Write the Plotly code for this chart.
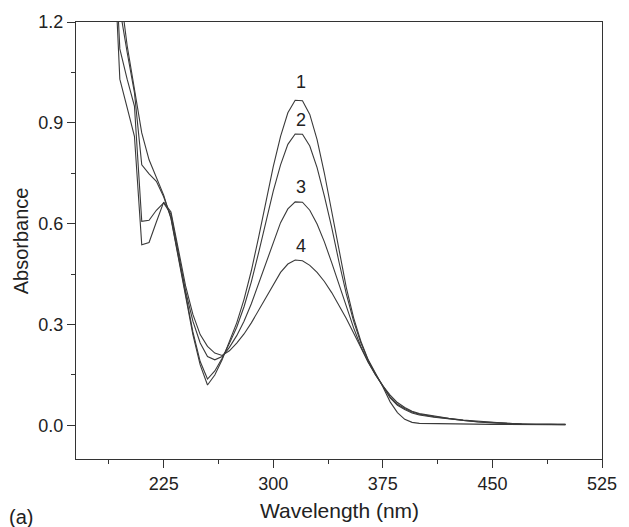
import plotly.graph_objects as go

# UV-Vis absorption spectra, four samples (1-4)
wavelength = [190, 195, 200, 205, 210, 215, 220, 225, 230, 235,
              240, 245, 250, 255, 260, 265, 270, 275, 280, 285,
              290, 295, 300, 305, 310, 315, 320, 325, 330, 335,
              340, 345, 350, 355, 360, 365, 370, 375, 380, 385,
              390, 395, 400, 410, 420, 430, 440, 450, 460, 470,
              480, 490, 500]

abs_1 = [1.90, 1.30, 1.13, 1.00, 0.870, 0.790, 0.735, 0.685, 0.615, 0.500,
         0.380, 0.270, 0.180, 0.120, 0.150, 0.195, 0.250, 0.305, 0.375, 0.460,
         0.560, 0.665, 0.770, 0.860, 0.930, 0.967, 0.966, 0.925, 0.850, 0.750,
         0.640, 0.520, 0.410, 0.320, 0.250, 0.195, 0.155, 0.115, 0.070, 0.038,
         0.018, 0.009, 0.006, 0.005, 0.004, 0.004, 0.003, 0.003, 0.003, 0.002,
         0.002, 0.002, 0.002]

abs_2 = [1.80, 1.24, 1.11, 0.990, 0.775, 0.748, 0.726, 0.680, 0.618, 0.505,
         0.385, 0.278, 0.190, 0.138, 0.162, 0.200, 0.244, 0.292, 0.353, 0.427,
         0.514, 0.605, 0.697, 0.775, 0.836, 0.867, 0.866, 0.831, 0.767, 0.682,
         0.589, 0.486, 0.391, 0.310, 0.245, 0.193, 0.152, 0.117, 0.082, 0.060,
         0.047, 0.037, 0.031, 0.024, 0.019, 0.014, 0.010, 0.007, 0.005, 0.004,
         0.003, 0.003, 0.002]

abs_3 = [1.56, 1.12, 1.03, 0.950, 0.607, 0.610, 0.640, 0.662, 0.628, 0.515,
         0.400, 0.310, 0.245, 0.205, 0.195, 0.205, 0.232, 0.267, 0.310, 0.362,
         0.422, 0.484, 0.548, 0.603, 0.644, 0.665, 0.664, 0.640, 0.599, 0.546,
         0.484, 0.417, 0.352, 0.290, 0.234, 0.188, 0.151, 0.118, 0.085, 0.063,
         0.050, 0.040, 0.033, 0.026, 0.020, 0.015, 0.011, 0.008, 0.005, 0.004,
         0.003, 0.003, 0.003]

abs_4 = [1.50, 1.03, 0.945, 0.860, 0.537, 0.544, 0.605, 0.664, 0.635, 0.525,
         0.415, 0.330, 0.270, 0.235, 0.215, 0.208, 0.222, 0.245, 0.272, 0.305,
         0.342, 0.380, 0.420, 0.455, 0.480, 0.492, 0.490, 0.476, 0.455, 0.428,
         0.395, 0.358, 0.318, 0.275, 0.230, 0.188, 0.150, 0.118, 0.090, 0.068,
         0.053, 0.042, 0.035, 0.027, 0.021, 0.016, 0.012, 0.008, 0.006, 0.004,
         0.004, 0.003, 0.003]

series = [abs_1, abs_2, abs_3, abs_4]
curve_labels = ["1", "2", "3", "4"]
label_wavelength = 319
label_abs = [1.021, 0.907, 0.708, 0.534]

x_ticks = [225, 300, 375, 450, 525]
x_minor = [187.5, 262.5, 337.5, 412.5, 487.5]
y_ticks = [0.0, 0.3, 0.6, 0.9, 1.2]
y_minor = [0.15, 0.45, 0.75, 1.05]

LINE = "#3a3a3a"
AXIS = "#333333"
TEXT = "#222222"
FONT = "Liberation Sans, Arial, Helvetica, sans-serif"

fig = go.Figure()
for values in series:
    fig.add_trace(go.Scatter(
        x=wavelength, y=values, mode="lines",
        line=dict(color=LINE, width=1.1),
        hoverinfo="skip", showlegend=False,
    ))

for text, yv in zip(curve_labels, label_abs):
    fig.add_annotation(x=label_wavelength, y=yv, xref="x", yref="y",
                       text=text, showarrow=False,
                       font=dict(size=18, color=TEXT, family=FONT))

axis_common = dict(
    showline=True, linecolor=AXIS, linewidth=1.2, mirror=True,
    ticks="outside", ticklen=8, tickwidth=1.2, tickcolor=AXIS,
    showgrid=False, zeroline=False,
    tickfont=dict(size=18, color=TEXT, family=FONT),
)

fig.update_xaxes(range=[165, 525], tickvals=x_ticks,
                 ticktext=[str(v) for v in x_ticks],
                 minor=dict(tickvals=x_minor, ticks="outside", ticklen=4,
                            tickwidth=1.2, tickcolor=AXIS),
                 **axis_common)
fig.update_yaxes(range=[-0.1, 1.2], tickvals=y_ticks,
                 ticktext=[f"{v:.1f}" for v in y_ticks],
                 minor=dict(tickvals=y_minor, ticks="outside", ticklen=4,
                            tickwidth=1.2, tickcolor=AXIS),
                 **axis_common)

# Axis titles and panel tag
fig.add_annotation(text="Wavelength (nm)", xref="paper", yref="paper",
                   x=0.5, y=-0.117, xanchor="center", yanchor="middle",
                   showarrow=False, font=dict(size=21, color=TEXT, family=FONT))
fig.add_annotation(text="Absorbance", xref="paper", yref="paper",
                   x=-0.105, y=0.5, xanchor="center", yanchor="middle",
                   textangle=-90, showarrow=False,
                   font=dict(size=20, color=TEXT, family=FONT))
fig.add_annotation(text="(a)", xref="paper", yref="paper",
                   x=-0.105, y=-0.132, xanchor="center", yanchor="middle",
                   showarrow=False, font=dict(size=20, color=TEXT, family=FONT))

fig.update_layout(
    width=629, height=527,
    margin=dict(l=76, r=22, t=22, b=68),
    paper_bgcolor="white", plot_bgcolor="white",
    showlegend=False,
    font=dict(family=FONT, color=TEXT),
)

fig.write_html("out.html")
